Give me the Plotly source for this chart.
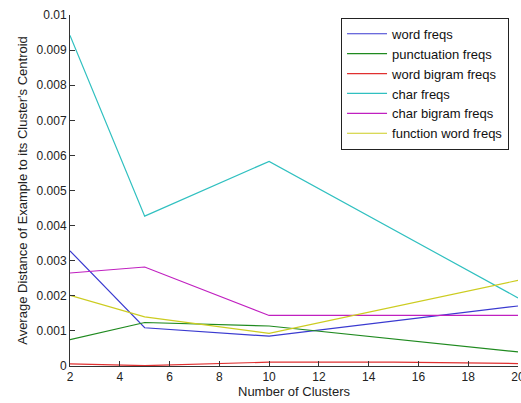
import plotly.graph_objects as go

clusters = [2, 5, 10, 15, 20]
word_freqs = [0.00328, 0.00109, 0.00085, 0.00128, 0.00171]
punctuation_freqs = [0.00075, 0.00124, 0.00114, 0.00077, 0.00040]
word_bigram_freqs = [0.00006, 0.00001, 0.00011, 0.00011, 0.00007]
char_freqs = [0.00942, 0.00427, 0.00583, 0.00389, 0.00194]
char_bigram_freqs = [0.00265, 0.00282, 0.00144, 0.00144, 0.00144]
function_word_freqs = [0.00201, 0.00140, 0.00093, 0.00169, 0.00244]

series = [
    ("word freqs", word_freqs, "#3a3ad0"),
    ("punctuation freqs", punctuation_freqs, "#1f8a1f"),
    ("word bigram freqs", word_bigram_freqs, "#e03030"),
    ("char freqs", char_freqs, "#30c0c0"),
    ("char bigram freqs", char_bigram_freqs, "#c020c0"),
    ("function word freqs", function_word_freqs, "#cccc20"),
]

y_ticks = [0, 0.001, 0.002, 0.003, 0.004, 0.005, 0.006, 0.007, 0.008, 0.009, 0.01]
y_tick_labels = ["0", "0.001", "0.002", "0.003", "0.004", "0.005", "0.006",
                 "0.007", "0.008", "0.009", "0.01"]
x_ticks = [2, 4, 6, 8, 10, 12, 14, 16, 18, 20]

fig = go.Figure()
for name, vals, color in series:
    fig.add_trace(go.Scatter(x=clusters, y=vals, mode="lines", name=name,
                             line=dict(color=color, width=1.2)))

font = "Liberation Sans, Arial, sans-serif"
fig.update_layout(
    width=521, height=403,
    margin=dict(l=70, r=3, t=15, b=37, autoexpand=False),
    paper_bgcolor="white", plot_bgcolor="white",
    font=dict(family=font, size=12, color="#222222"),
    showlegend=True,
    legend=dict(x=0.605, y=0.992, xanchor="left", yanchor="top",
                bordercolor="#222222", borderwidth=1, bgcolor="white",
                font=dict(family=font, size=13, color="#111111"),
                tracegroupgap=0, itemwidth=40),
    xaxis=dict(range=[2, 20], tickvals=x_ticks, ticks="inside", ticklen=5,
               tickcolor="#333333", showline=True, linecolor="#333333",
               linewidth=1, showgrid=False, zeroline=False, automargin=False,
               ticklabeloverflow="allow",
               tickfont=dict(size=12, color="#222222"),
               title=dict(text="Number of Clusters", standoff=2,
                          font=dict(size=13, color="#222222"))),
    yaxis=dict(range=[0, 0.01], tickvals=y_ticks, ticktext=y_tick_labels,
               ticks="inside", ticklen=5, tickcolor="#333333", showline=True,
               linecolor="#333333", linewidth=1, showgrid=False, zeroline=False,
               automargin=False,
               tickfont=dict(size=12, color="#222222"),
               title=dict(text="Average Distance of Example to its Cluster's Centroid",
                          standoff=6, font=dict(size=13, color="#222222"))),
)

fig.write_html("out.html", config={"displayModeBar": False},
               post_script="document.body.style.margin='0';document.body.style.overflow='hidden';")
